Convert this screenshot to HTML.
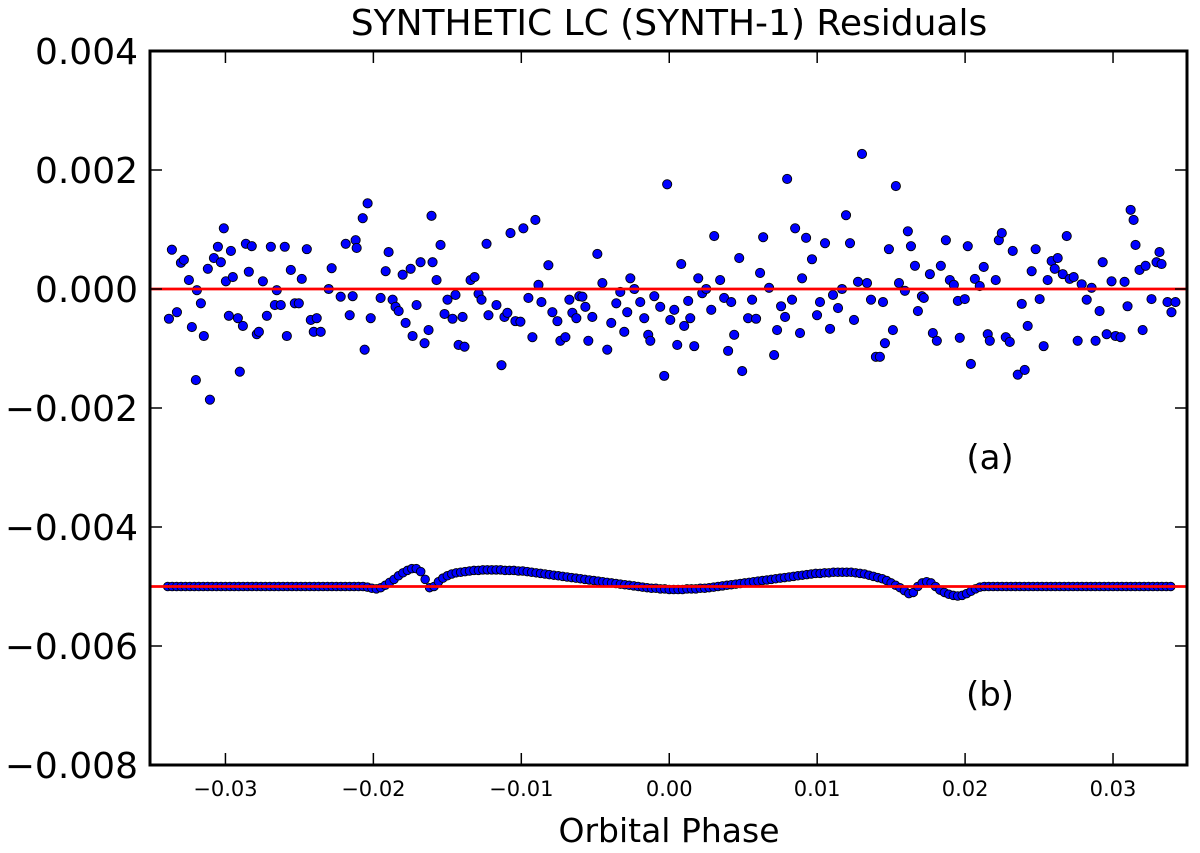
<!DOCTYPE html>
<html><head><meta charset="utf-8"><style>
html,body{margin:0;padding:0;background:#fff;}
svg{display:block;font-family:"DejaVu Sans","Liberation Sans",sans-serif;}
</style></head><body>
<svg id="chart" width="1200" height="853" viewBox="0 0 1200 853" xmlns="http://www.w3.org/2000/svg">
<text x="669" y="35" font-size="36" text-anchor="middle">SYNTHETIC LC (SYNTH-1) Residuals</text>
<text x="669" y="842" font-size="33" text-anchor="middle">Orbital Phase</text>
<text x="990" y="469" font-size="34" text-anchor="middle">(a)</text>
<text x="990" y="706" font-size="34" text-anchor="middle">(b)</text>
<g id="marks"></g>
<g id="axes"></g>
</svg>
<script>
// Series (a): phase (×1e-3) and residual (×1e-3)
const phaseA = [-33.82,-33.62,-33.28,-33.01,-32.81,-32.47,-32.27,-32.0,-31.93,-31.66,-31.46,-31.19,-31.05,-30.78,-30.51,-30.31,-30.11,-29.97,-29.77,-29.63,-29.5,-29.16,-29.03,-28.82,-28.62,-28.42,-28.22,-27.88,-27.74,-27.47,-27.2,-26.93,-26.66,-26.53,-26.26,-25.99,-25.85,-25.58,-25.31,-25.04,-24.84,-24.5,-24.23,-24.03,-23.83,-23.56,-23.02,-22.82,-22.21,-21.87,-21.6,-21.4,-21.2,-21.13,-20.72,-20.59,-20.39,-20.18,-19.51,-19.17,-18.97,-18.7,-18.5,-18.29,-18.02,-17.82,-17.48,-17.35,-17.08,-16.81,-16.54,-16.27,-16.07,-16.0,-15.73,-15.46,-15.19,-14.99,-14.65,-14.45,-14.24,-13.97,-13.84,-13.43,-13.16,-12.89,-12.69,-12.35,-12.22,-11.68,-11.34,-11.14,-10.94,-10.73,-10.4,-10.06,-9.86,-9.52,-9.25,-9.05,-8.84,-8.64,-8.17,-7.9,-7.56,-7.36,-7.02,-6.75,-6.55,-6.28,-6.08,-5.87,-5.67,-5.47,-5.2,-4.86,-4.52,-4.19,-3.92,-3.58,-3.31,-3.04,-2.84,-2.63,-2.36,-1.96,-1.69,-1.42,-1.28,-1.01,-0.61,-0.34,-0.14,0.07,0.34,0.54,0.81,1.01,1.28,1.42,1.69,1.96,2.23,2.5,2.84,3.04,3.44,3.71,3.98,4.19,4.39,4.73,4.93,5.33,5.6,5.87,6.14,6.35,6.75,7.09,7.29,7.56,7.83,7.97,8.3,8.51,8.84,8.98,9.25,9.65,9.99,10.19,10.53,10.87,11.07,11.41,11.68,11.95,12.22,12.49,12.76,13.03,13.37,13.64,13.97,14.24,14.45,14.58,14.85,15.12,15.32,15.53,15.93,16.13,16.34,16.61,16.81,17.08,17.21,17.62,17.82,18.09,18.36,18.7,18.97,19.24,19.51,19.64,19.98,20.18,20.39,20.66,20.99,21.26,21.53,21.67,22.07,22.28,22.48,22.75,23.02,23.22,23.56,23.83,24.03,24.23,24.5,24.77,25.04,25.31,25.58,25.85,26.06,26.26,26.6,26.87,27.07,27.34,27.61,27.88,28.22,28.55,28.82,29.09,29.3,29.57,29.9,30.17,30.51,30.78,30.98,31.19,31.39,31.52,31.79,32.0,32.2,32.6,32.94,33.14,33.28,33.68,33.95,34.22];
const residA = [-0.50,0.66,-0.39,0.44,0.49,0.15,-0.64,-1.53,-0.02,-0.24,-0.79,0.34,-1.86,0.52,0.71,0.45,1.02,0.13,-0.45,0.64,0.20,-0.49,-1.39,-0.62,0.76,0.29,0.72,-0.76,-0.72,0.13,-0.45,0.71,-0.27,-0.02,-0.27,0.71,-0.79,0.32,-0.24,-0.24,0.17,0.67,-0.52,-0.72,-0.49,-0.72,0,0.35,-0.13,0.76,-0.44,-0.12,0.82,0.69,1.19,-1.02,1.44,-0.49,-0.15,0.30,0.62,-0.18,-0.30,-0.37,0.24,-0.57,0.34,-0.79,-0.27,0.45,-0.91,-0.69,1.23,0.45,0.15,0.74,-0.42,-0.18,-0.50,-0.10,-0.94,-0.47,-0.97,0.15,0.20,-0.08,-0.18,0.76,-0.44,-0.27,-1.28,-0.47,-0.40,0.94,-0.54,-0.55,1.02,-0.15,-0.81,1.16,0.07,-0.22,0.40,-0.39,-0.54,-0.87,-0.81,-0.18,-0.40,-0.49,-0.12,-0.13,-0.30,-0.87,-0.47,0.59,0.10,-1.02,-0.57,-0.24,-0.05,-0.72,-0.39,0.18,0,-0.22,-0.49,-0.77,-0.87,-0.12,-0.30,-1.46,1.76,-0.52,-0.35,-0.94,0.42,-0.62,-0.20,-0.49,-0.96,0.18,-0.07,0,-0.35,0.89,0.15,-0.15,-1.04,-0.22,-0.77,0.52,-1.38,-0.49,-0.18,-0.50,0.27,0.87,0.02,-1.11,-0.69,-0.29,-0.47,1.85,-0.18,1.02,-0.74,0.18,0.86,0.50,-0.44,-0.22,0.77,-0.67,-0.10,-0.32,0,1.24,0.77,-0.52,0.12,2.27,0.10,-0.18,-1.14,-1.14,-0.22,-0.91,0.67,-0.69,1.73,0.10,-0.03,0.97,0.72,0.39,-0.37,-0.12,-0.15,0.25,-0.74,-0.87,0.39,0.82,0.15,0.07,-0.20,-0.82,-0.17,0.72,-1.26,0.17,0.05,0.37,-0.76,-0.87,0.15,0.82,0.94,-0.81,-0.89,0.64,-1.44,-0.25,-1.36,-0.62,0.30,0.67,-0.17,-0.96,0.15,0.47,0.34,0.52,0.25,0.89,0.17,0.20,-0.87,0.08,-0.18,0.02,-0.87,-0.37,0.45,-0.76,0.13,-0.79,-0.81,0.12,-0.29,1.33,1.16,0.74,0.32,-0.69,0.39,-0.17,0.45,0.62,0.42,-0.22,-0.39,-0.22];
// Series (b): uniform phase grid (×1e-3), values (×1e-3)
const phaseBStart = -33.9, phaseBStep = 0.3;
const residB = [
-5,-5,-5,-5,-5,-5,-5,-5,-5,-5,-5,-5,-5,-5,-5,-5,-5,-5,-5,-5,-5,-5,-5,-5,-5,-5,-5,-5,-5,-5,-5,-5,-5,-5,-5,-5,-5,-5,-5,-5,-5,-5,-5,-5,-5,
-5.01,-5.03,-5.04,-5.02,-4.98,-4.93,-4.88,-4.82,-4.77,-4.73,-4.70,-4.70,-4.75,-4.88,-5.02,-5.00,-4.92,-4.86,-4.82,-4.79,-4.77,-4.76,-4.75,-4.74,
-4.73,-4.73,-4.72,-4.72,-4.72,-4.72,-4.72,-4.73,-4.73,-4.73,-4.74,-4.74,
-4.75,
-4.76,-4.77,-4.78,-4.79,-4.80,-4.81,-4.82,-4.83,-4.84,-4.85,-4.86,-4.87,-4.88,-4.89,-4.90,-4.91,-4.92,-4.93,-4.94,-4.95,-4.96,-4.97,
-4.98,-4.99,-5.00,-5.01,-5.02,-5.03,-5.03,-5.04,-5.04,-5.05,
-5.05,-5.05,-5.05,-5.04,-5.04,-5.04,-5.03,-5.03,-5.02,-5.01,
-5.00,-4.99,-4.98,-4.97,-4.96,-4.95,-4.94,-4.93,-4.92,-4.91,-4.90,-4.89,-4.88,-4.87,-4.86,-4.85,-4.84,
-4.83,-4.82,-4.81,-4.80,-4.79,-4.78,-4.78,-4.77,-4.77,-4.76,-4.76,-4.76,-4.76,-4.76,-4.77,-4.78,
-4.79,-4.81,-4.83,-4.85,-4.87,-4.90,-4.94,-4.98,-5.02,-5.07,-5.12,-5.10,-5.00,-4.94,-4.92,-4.94,-5.00,-5.06,-5.10,-5.13,-5.15,-5.16,-5.15,-5.12,-5.08,-5.04,-5.01,
-5,-5,-5,-5,-5,-5,-5,-5,-5,-5,-5,-5,-5,-5,-5,-5,-5,-5,-5,-5,-5,-5,-5,-5,-5,-5,-5,-5,-5,-5,-5,-5,-5,-5,-5,-5,-5,-5,-5,-5,-5,-5,-5];
const refLines = [0, -5];
const xTicks = [-30,-20,-10,0,10,20,30];
const xTickLabels = ["\u22120.03","\u22120.02","\u22120.01","0.00","0.01","0.02","0.03"];
const yTicks = [4,2,0,-2,-4,-6,-8];
const yTickLabels = ["0.004","0.002","0.000","\u22120.002","\u22120.004","\u22120.006","\u22120.008"];

const L=150,R=1187,T=51,B=765;
const xMin=-35.1,xMax=35.0,yMin=-8,yMax=4;
const X=v=>L+(v-xMin)/(xMax-xMin)*(R-L);
const Y=v=>T+(yMax-v)/(yMax-yMin)*(B-T);
const NS="http://www.w3.org/2000/svg";
function mk(tag,attrs,parent){const e=document.createElementNS(NS,tag);for(const k in attrs)e.setAttribute(k,attrs[k]);parent.appendChild(e);return e;}
const marks=document.getElementById('marks'), axes=document.getElementById('axes');

const ga=mk('g',{},marks);


phaseA.forEach((p,i)=>{
  const c=mk('circle',{cx:X(p),cy:Y(residA[i]),r:4.6,fill:'#0000ff',stroke:'#000','stroke-width':0.9},ga);
  
  
});
const gb=mk('g',{},marks);


residB.forEach((v,i)=>{
  const p=phaseBStart+i*phaseBStep;
  const c=mk('circle',{cx:X(p),cy:Y(v),r:4.3,fill:'#0000ff',stroke:'#000','stroke-width':0.9},gb);
  
  
});
refLines.forEach(v=>{
  const l=mk('line',{x1:L,x2:R,y1:Y(v),y2:Y(v),stroke:'#ff0000','stroke-width':2.8},marks);
  
  
});
const frame=mk('rect',{x:L,y:T,width:R-L,height:B-T,fill:'none',stroke:'#000','stroke-width':3},axes);


xTicks.forEach((t,i)=>{
  const x=X(t);
  mk('line',{x1:x,x2:x,y1:B,y2:B-12,stroke:'#000','stroke-width':1.5},axes);
  mk('line',{x1:x,x2:x,y1:T,y2:T+12,stroke:'#000','stroke-width':1.5},axes);
  const tx=mk('text',{x:x,y:B+31,'font-size':21,'text-anchor':'middle'},axes);
  tx.textContent=xTickLabels[i];
  
  
});
yTicks.forEach((t,i)=>{
  const y=Y(t);
  mk('line',{x1:L,x2:L+12,y1:y,y2:y,stroke:'#000','stroke-width':1.5},axes);
  mk('line',{x1:R,x2:R-12,y1:y,y2:y,stroke:'#000','stroke-width':1.5},axes);
  const tx=mk('text',{x:138,y:y+13,'font-size':36,'text-anchor':'end'},axes);
  tx.textContent=yTickLabels[i];
  
  
});
</script>
</body></html>
